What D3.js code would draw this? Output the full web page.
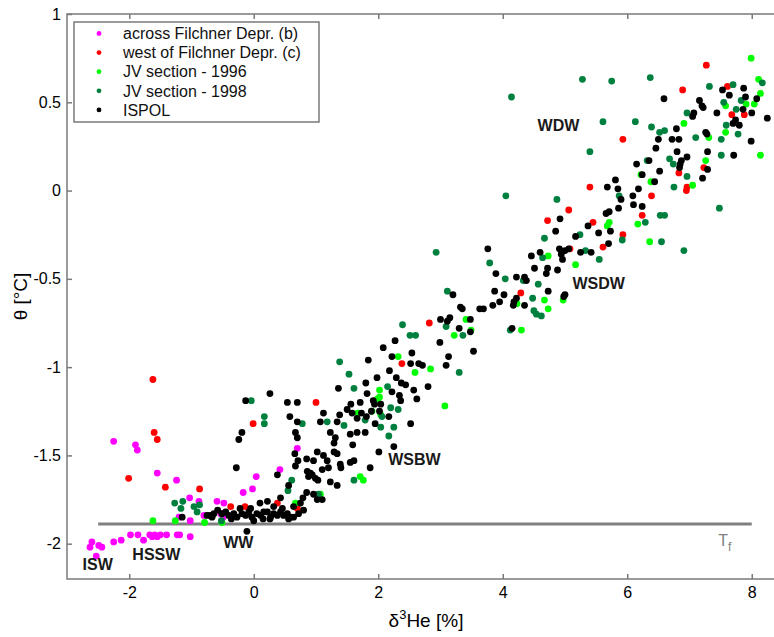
<!DOCTYPE html>
<html lang="en">
<head>
  <meta charset="UTF-8">
  <title>Theta vs delta 3He</title>
  <script src="https://d3js.org/d3.v7.min.js"></script>
  <style>
    body {
      margin: 0;
      background: #fff;
      font-family: 'Liberation Sans', Arial, sans-serif;
    }
    .axis text {
      font-family: 'Liberation Sans', Arial, sans-serif;
      font-size: 16px;
      fill: #000;
    }
    .axis path, .axis line {
      stroke: #7a7a7a;
      stroke-width: 1.5px;
    }
    .water-mass {
      font-size: 16px;
      font-weight: bold;
      fill: #1a1a1a;
    }
    .legend text {
      font-size: 16px;
      fill: #111;
    }
  </style>
</head>
<body>
<svg width="774" height="637"></svg>

<script>
  // series: [delta3He %, theta degC]
  const acrossFilchner = [
    [-2.25,-1.42],[-1.90,-1.44],[-1.87,-1.47],[-1.55,-1.60],[-1.24,-1.64],[-1.03,-1.74],[-0.59,-1.76],
    [-0.48,-1.77],[-0.17,-1.71],[-0.02,-1.69],[0.04,-1.62],[0.42,-1.58],[0.70,-1.46],[-2.60,-1.99],
    [-2.63,-2.02],[-2.49,-2.01],[-2.44,-2.02],[-2.53,-2.07],[-2.25,-1.99],[-2.13,-1.98],[-1.98,-1.95],
    [-1.86,-1.95],[-1.77,-1.98],[-1.67,-1.95],[-1.63,-1.96],[-1.59,-1.95],[-1.55,-1.96],[-1.50,-1.95],
    [-1.40,-1.95],[-1.23,-1.95],[-1.19,-1.95],[-1.02,-1.96],[-1.20,-1.85],[-1.02,-1.87],[-0.80,-1.84],
    [-0.53,-1.83],[-0.49,-1.85],[-0.88,-1.76]
  ];
  const westFilchner = [
    [-1.62,-1.07],[-1.60,-1.37],[-1.55,-1.41],[-2.01,-1.63],[-1.42,-1.68],[-0.87,-1.69],[-0.01,-1.32],
    [1.00,-1.20],[-0.37,-1.79],[-0.14,-1.79],[0.38,-1.77],[0.70,-1.80],[2.38,-0.98],[2.82,-0.75],
    [4.29,-0.58],[5.08,-0.33],[5.61,-0.32],[5.93,-0.25],[4.72,-0.17],[5.45,-0.18],[5.06,-0.11],
    [6.24,-0.14],[6.39,-0.03],[6.96,0.02],[6.95,0.00],[7.23,0.13],[6.83,0.10],[5.40,0.02],[5.93,0.29],
    [6.89,0.57],[7.27,0.71],[7.61,0.59],[7.68,0.43],[7.88,0.43]
  ];
  const jv1996 = [
    [7.99,0.75],[8.11,0.63],[8.14,0.55],[8.04,0.49],[7.91,0.49],[7.58,0.48],[6.91,0.38],[7.31,0.30],
    [7.58,0.33],[8.14,0.20],[7.26,0.17],[6.22,0.09],[6.38,0.05],[7.05,0.03],[6.17,-0.19],[5.68,-0.20],
    [5.71,-0.18],[6.36,-0.29],[5.17,-0.42],[4.73,-0.37],[4.67,-0.62],[4.73,-0.67],[4.97,-0.62],
    [4.30,-0.79],[3.41,-0.73],[3.49,-0.79],[3.22,-0.82],[2.32,-0.94],[2.59,-1.03],[2.84,-1.01],
    [3.07,-1.22],[2.02,-1.13],[2.02,-1.17],[1.99,-1.18],[1.67,-1.26],[4.23,-0.64],[1.90,-1.25],
    [2.04,-1.27],[1.71,-1.62],[1.76,-1.64],[1.07,-1.72],[0.67,-1.77],[-1.62,-1.87],[-1.26,-1.87],
    [-0.79,-1.88],[-0.51,-1.88]
  ];
  const jv1998 = [
    [4.14,0.53],[5.28,0.63],[5.75,0.62],[6.37,0.64],[5.61,0.39],[6.13,0.39],[6.39,0.36],[5.40,0.22],
    [6.52,0.33],[6.60,0.34],[6.96,0.44],[7.32,0.59],[7.70,0.60],[7.55,0.50],[7.75,0.46],[7.83,0.51],
    [8.17,0.61],[7.59,0.37],[7.51,0.29],[7.78,0.32],[7.10,0.30],[7.51,0.20],[6.68,0.18],[6.74,0.15],
    [6.96,0.08],[6.75,0.02],[7.48,-0.10],[4.05,-0.03],[4.87,-0.05],[5.87,-0.03],[6.32,0.17],
    [6.53,-0.14],[6.60,-0.14],[6.29,-0.18],[6.55,-0.29],[6.91,-0.34],[5.92,-0.28],[5.55,-0.39],
    [5.33,-0.34],[5.24,-0.25],[4.67,-0.27],[4.64,-0.38],[4.57,-0.53],[4.48,-0.61],[4.50,-0.68],
    [4.54,-0.70],[4.62,-0.71],[4.12,-0.79],[4.04,-0.50],[3.79,-0.41],[2.93,-0.35],[3.11,-0.57],
    [2.39,-0.76],[2.51,-0.82],[2.60,-0.82],[3.09,-0.77],[3.36,-0.82],[3.30,-1.03],[1.38,-0.97],
    [1.53,-1.04],[1.61,-1.12],[2.15,-1.11],[2.32,-1.24],[2.06,-1.28],[4.33,-0.51],[-0.04,-1.19],
    [0.17,-1.28],[0.17,-1.32],[0.78,-1.32],[1.18,-1.31],[1.45,-1.33],[1.79,-1.30],[2.04,-1.34],
    [2.25,-1.34],[2.20,-1.23],[0.61,-1.64],[0.55,-1.70],[1.61,-1.64],[2.17,-1.39],[1.04,-1.72],
    [-1.27,-1.77],[-1.14,-1.76],[-1.17,-1.80],[-0.96,-1.79],[-0.87,-1.78],[-0.91,-1.82],[-0.52,-1.87]
  ];
  const ispol = [
    [6.59,0.52],[7.53,0.57],[7.64,0.54],[7.87,0.58],[7.90,0.53],[8.08,0.52],[7.16,0.51],[7.20,0.48],
    [7.22,0.47],[7.07,0.44],[7.05,0.42],[7.44,0.44],[7.86,0.46],[8.00,0.44],[8.25,0.41],[7.74,0.40],
    [7.70,0.38],[7.80,0.37],[6.79,0.35],[7.26,0.33],[7.28,0.32],[6.72,0.29],[6.83,0.29],[6.50,0.29],
    [6.46,0.24],[7.99,0.28],[6.80,0.22],[7.29,0.22],[7.71,0.20],[6.35,0.17],[6.15,0.15],[6.96,0.19],
    [6.87,0.17],[6.85,0.15],[6.84,0.13],[6.52,0.11],[6.24,0.09],[7.29,0.12],[7.21,0.07],[6.44,0.05],
    [5.81,0.06],[5.68,0.02],[5.85,0.01],[5.90,-0.05],[6.18,0.01],[6.09,-0.03],[6.10,-0.08],[6.24,-0.09],
    [5.86,-0.10],[5.71,-0.12],[5.66,-0.13],[4.92,-0.16],[5.37,-0.20],[5.54,-0.24],[5.73,-0.23],
    [5.70,-0.30],[4.85,-0.23],[5.17,-0.26],[4.91,-0.33],[4.94,-0.36],[4.96,-0.39],[5.06,-0.33],
    [5.00,-0.34],[5.25,-0.35],[5.42,-0.35],[4.60,-0.35],[4.46,-0.37],[4.51,-0.44],[4.72,-0.44],
    [4.70,-0.47],[4.88,-0.45],[4.73,-0.57],[5.00,-0.59],[4.98,-0.60],[4.35,-0.49],[4.38,-0.51],
    [4.22,-0.49],[3.89,-0.47],[3.76,-0.33],[3.87,-0.57],[4.02,-0.59],[4.22,-0.61],[4.18,-0.63],
    [4.17,-0.65],[4.35,-0.65],[3.95,-0.63],[3.84,-0.65],[3.69,-0.67],[3.63,-0.67],[4.15,-0.78],
    [3.20,-0.59],[3.32,-0.66],[3.35,-0.67],[3.15,-0.72],[3.11,-0.74],[3.00,-0.73],[3.48,-0.73],
    [3.30,-0.78],[3.48,-0.80],[2.99,-0.86],[3.53,-0.91],[3.13,-0.94],[3.09,-0.99],[2.27,-0.85],
    [2.08,-0.89],[2.22,-0.94],[2.54,-0.92],[1.84,-0.96],[2.52,-0.98],[2.65,-0.98],[2.71,-0.99],
    [2.18,-1.02],[1.98,-1.06],[2.29,-1.06],[2.37,-1.09],[2.44,-1.10],[1.80,-1.09],[1.82,-1.15],
    [1.36,-1.12],[2.22,-1.14],[2.57,-1.13],[2.80,-1.11],[2.34,-1.16],[2.36,-1.19],[1.92,-1.19],
    [1.94,-1.21],[2.04,-1.21],[1.71,-1.20],[2.62,-1.18],[1.56,-1.21],[1.50,-1.24],[2.02,-1.25],
    [1.12,-1.26],[1.38,-1.27],[1.58,-1.26],[1.81,-1.28],[1.89,-1.25],[0.26,-1.15],[-0.13,-1.19],
    [0.54,-1.20],[0.70,-1.20],[-0.19,-1.37],[-0.24,-1.41],[-0.28,-1.57],[0.58,-1.28],[0.70,-1.31],
    [1.07,-1.31],[0.67,-1.37],[0.70,-1.40],[1.34,-1.31],[1.23,-1.37],[1.31,-1.40],[1.29,-1.43],
    [1.55,-1.38],[1.66,-1.37],[1.59,-1.44],[1.79,-1.37],[1.73,-1.26],[1.02,-1.48],[0.85,-1.52],
    [0.71,-1.53],[0.67,-1.56],[1.12,-1.50],[1.18,-1.53],[1.20,-1.57],[1.10,-1.58],[1.29,-1.48],
    [1.34,-1.49],[1.39,-1.55],[1.40,-1.57],[1.55,-1.54],[1.61,-1.53],[0.86,-1.59],[0.88,-1.62],
    [0.94,-1.61],[0.99,-1.63],[0.91,-1.60],[0.38,-1.61],[1.23,-1.65],[1.34,-1.67],[1.10,-1.75],
    [1.02,-1.75],[0.85,-1.71],[0.79,-1.74],[1.87,-1.57],[2.01,-1.48],[2.25,-1.45],[2.52,-1.32],
    [1.95,-1.32],[2.17,-1.28],[1.66,-1.29],[0.66,-1.49],[0.96,-1.53],[1.03,-1.64],[0.56,-1.67],
    [0.96,-1.72],[0.75,-1.77],[0.64,-1.79],
    [-0.70,-1.84],[-0.64,-1.83],[-0.51,-1.83],[-0.45,-1.82],[-0.40,-1.84],[-0.32,-1.83],[-0.27,-1.85],
    [-0.19,-1.83],[-0.13,-1.84],[-0.08,-1.82],[-0.03,-1.85],[0.05,-1.83],[0.11,-1.84],[0.16,-1.82],
    [0.22,-1.82],[0.27,-1.85],[0.32,-1.83],[0.38,-1.84],[0.43,-1.82],[0.48,-1.84],[0.54,-1.83],
    [0.59,-1.85],[0.64,-1.85],[0.10,-1.77],[0.22,-1.76],[0.43,-1.74],[0.32,-1.79],[0.26,-1.86],
    [-1.15,-1.85],[-0.11,-1.93],[-0.67,-1.85],[-0.75,-1.84],[-0.58,-1.81],[-0.36,-1.86],[-0.05,-1.80],
    [0.15,-1.86],[0.46,-1.80],[0.56,-1.86],[0.72,-1.83],[0.80,-1.81],[0.00,-1.87],[-0.22,-1.80]
  ];

  const seriesNames = ["across Filchner Depr. (b)", "west of Filchner Depr. (c)",
                       "JV section - 1996", "JV section - 1998", "ISPOL"];
  const seriesColors = ["#ff00ff", "#ff0000", "#00ff00", "#00803f", "#000000"];
  const seriesData = [acrossFilchner, westFilchner, jv1996, jv1998, ispol];

  const xTicks = [-2, 0, 2, 4, 6, 8];
  const yTicks = [-2, -1.5, -1, -0.5, 0, 0.5, 1];

  // freezing point line and water mass labels (data coords)
  const freezingLine = { x0: -2.5, x1: 8, theta: -1.888 };
  const waterMasses = [
    { text: "WDW", x: 4.56, y: 0.34 },
    { text: "WSDW", x: 5.12, y: -0.555 },
    { text: "WSBW", x: 2.16, y: -1.552 },
    { text: "WW", x: -0.49, y: -2.023 },
    { text: "HSSW", x: -1.95, y: -2.091 },
    { text: "ISW", x: -2.75, y: -2.148 }
  ];

  const svg = d3.select("svg");
  const plotLeft = 67, plotTop = 14, plotBottom = 579;

  const x = d3.scaleLinear().domain([-3, 8.5]).range([plotLeft, plotLeft + 11.5 * 62.25]);
  const y = d3.scaleLinear().domain([-2.2, 1]).range([plotBottom, plotTop]);
  const plotRight = x(8.5);

  // box
  svg.append("rect")
    .attr("x", plotLeft).attr("y", plotTop)
    .attr("width", plotRight - plotLeft).attr("height", plotBottom - plotTop)
    .attr("fill", "none").attr("stroke", "#7a7a7a").attr("stroke-width", 1.5);

  svg.append("g")
    .attr("class", "axis")
    .attr("transform", `translate(0,${plotBottom})`)
    .call(d3.axisBottom(x).tickValues(xTicks).tickSize(-5).tickPadding(8).tickFormat(d => String(d)))
    .call(g => g.select(".domain").remove());

  svg.append("g")
    .attr("class", "axis")
    .attr("transform", `translate(0,${plotTop})`)
    .call(d3.axisTop(x).tickValues(xTicks).tickSize(-5).tickFormat(""))
    .call(g => g.select(".domain").remove());

  svg.append("g")
    .attr("class", "axis")
    .attr("transform", `translate(${plotLeft},0)`)
    .call(d3.axisLeft(y).tickValues(yTicks).tickSize(-5).tickPadding(6).tickFormat(d => String(d)))
    .call(g => g.select(".domain").remove());

  // axis titles
  const xt = svg.append("text")
    .attr("x", 426).attr("y", 627)
    .attr("text-anchor", "middle")
    .style("font-size", "19px");
  xt.append("tspan").text("δ");
  xt.append("tspan").attr("dy", -8).style("font-size", "13px").text("3");
  xt.append("tspan").attr("dy", 8).text("He [%]");

  svg.append("text")
    .attr("transform", `translate(27,${(plotTop + plotBottom) / 2}) rotate(-90)`)
    .attr("text-anchor", "middle")
    .style("font-size", "19px")
    .text("θ [°C]");

  // freezing point
  svg.append("line")
    .attr("x1", x(freezingLine.x0)).attr("x2", x(freezingLine.x1))
    .attr("y1", y(freezingLine.theta)).attr("y2", y(freezingLine.theta))
    .attr("stroke", "#808080").attr("stroke-width", 3);

  const tf = svg.append("text")
    .attr("x", x(7.46)).attr("y", y(-2.011))
    .style("font-size", "16px")
    .attr("fill", "#808080");
  tf.append("tspan").text("T");
  tf.append("tspan").attr("dy", 5).style("font-size", "12px").text("f");

  // points
  seriesData.forEach((pts, i) => {
    svg.append("g")
      .selectAll("circle")
      .data(pts)
      .enter()
      .append("circle")
      .attr("cx", d => x(d[0]))
      .attr("cy", d => y(d[1]))
      .attr("r", 3.4)
      .attr("fill", seriesColors[i]);
  });

  svg.selectAll(".water-mass")
    .data(waterMasses)
    .enter()
    .append("text")
    .attr("class", "water-mass")
    .attr("x", d => x(d.x))
    .attr("y", d => y(d.y))
    .text(d => d.text);

  // legend
  const legend = svg.append("g").attr("class", "legend");
  legend.append("rect")
    .attr("x", 74).attr("y", 22).attr("width", 245).attr("height", 100)
    .attr("fill", "#fff").attr("stroke", "#7a7a7a").attr("stroke-width", 1.5);

  seriesNames.forEach((name, i) => {
    const ly = 33.5 + i * 19.1;
    legend.append("circle")
      .attr("cx", 99).attr("cy", ly).attr("r", 2.4)
      .attr("fill", seriesColors[i]);
    legend.append("text")
      .attr("x", 123).attr("y", ly)
      .attr("dy", "0.36em")
      .text(name);
  });
</script>
</body>
</html>
